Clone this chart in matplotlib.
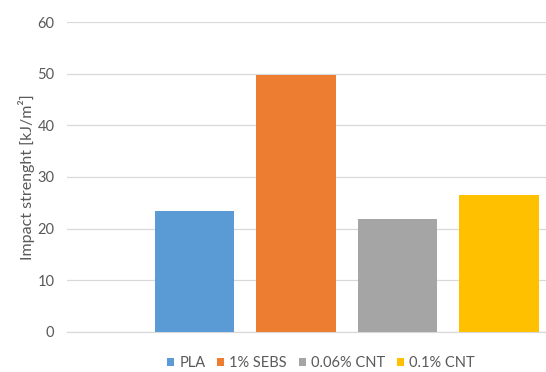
import matplotlib.pyplot as plt
from matplotlib.patches import Patch

# impact strength per material
materials = ['PLA', '1% SEBS', '0.06% CNT', '0.1% CNT']
impact = [23.5, 49.7, 21.9, 26.5]
colors = ['#5B9BD5', '#ED7D31', '#A5A5A5', '#FFC000']

plt.rcParams['font.family'] = ['Lato', 'DejaVu Sans']
text_col = '#595959'

fig = plt.figure(figsize=(5.46, 3.72), dpi=100)
ax = fig.add_axes([67 / 546, 40.3 / 372, 1 - 67 / 546, (331.7 - 22.3) / 372])

pos = list(range(len(materials)))
ax.bar(pos, impact, width=0.783, color=colors, zorder=3)

ax.set_xlim(-1.256, 3.463)
ax.set_ylim(0, 60)
ax.set_yticks(range(0, 61, 10))
ax.set_xticks([])
ax.yaxis.grid(True, color='#d9d9d9', linewidth=0.9, zorder=0)
for s in ['top', 'right', 'left']:
    ax.spines[s].set_visible(False)
ax.spines['bottom'].set_color('#d9d9d9')
ax.spines['bottom'].set_linewidth(0.9)
ax.tick_params(axis='y', length=0, pad=9, labelsize=10.5, labelcolor=text_col)

ax.set_ylabel('Impact strenght [kJ/m²]', fontsize=11.5, color=text_col, labelpad=2)

handles = [Patch(facecolor=c, edgecolor='none') for c in colors]
fig.legend(handles, materials, loc='center', bbox_to_anchor=(321 / 546, 1 - 363 / 372),
           ncol=4, frameon=False, fontsize=10.5, labelcolor=text_col,
           handlelength=0.5, handleheight=0.5, handletextpad=0.35, columnspacing=0.8)

fig.savefig('out.png', dpi=100)
